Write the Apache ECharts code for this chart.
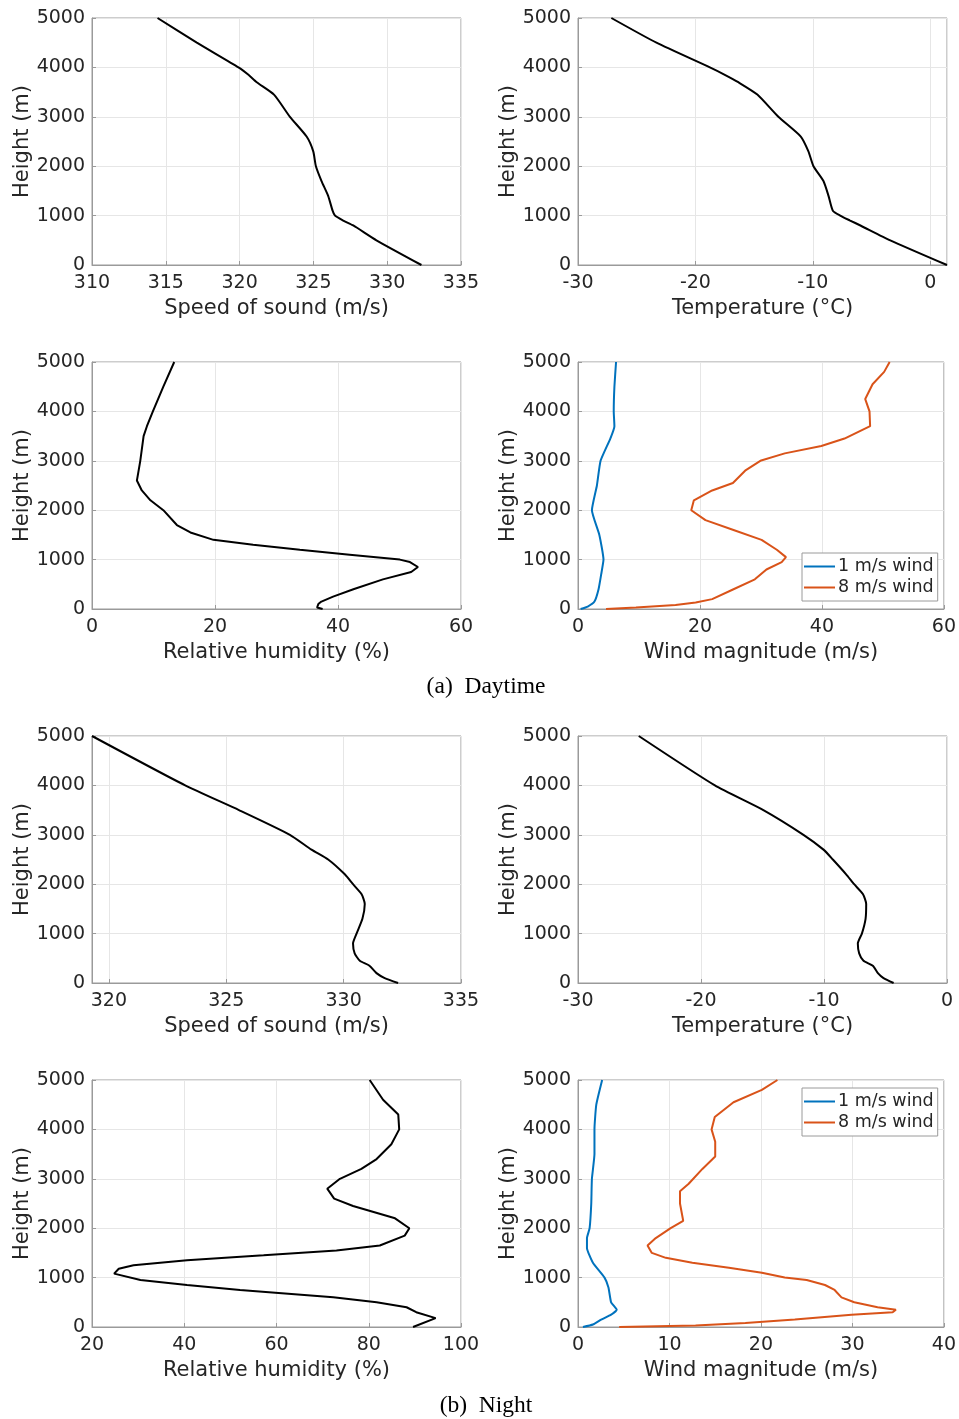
<!DOCTYPE html>
<html>
<head>
<meta charset="utf-8">
<script src="https://cdn.jsdelivr.net/npm/echarts@6.0.0/dist/echarts.min.js"></script>
<style>
  html, body { margin: 0; padding: 0; background: #fff; }
  #main { width: 959px; height: 1419px; }
</style>
</head>
<body>
<div id="main"></div>
<script>
    // ---- daytime profiles (height in m) ----
    var sosDayH = [5000, 4500, 4000, 3850, 3700, 3450, 3000, 2600, 2300, 2000, 1700, 1400, 1100, 1000, 900, 800, 500, 0];
    var sosDay = [314.44, 317.1, 319.92, 320.6, 321.16, 322.33, 323.41, 324.54, 324.99, 325.17, 325.55, 326.0, 326.3, 326.46, 327.02, 327.7, 329.27, 332.32];
    var tempDay = [-27.16, -23.32, -18.77, -17.5, -16.35, -14.73, -12.94, -11.03, -10.38, -9.95, -9.1, -8.67, -8.3, -7.68, -6.83, -5.95, -3.41, 1.42];

    var rhDayH = [5000, 4500, 4000, 3700, 3500, 3000, 2600, 2400, 2200, 2000, 1700, 1550, 1400, 1300, 1200, 1100, 1000, 950, 850, 750, 600, 400, 250, 150, 100, 30, 0];
    var rhDay = [13.37, 11.6, 9.9, 8.93, 8.39, 7.85, 7.3, 8.1, 9.5, 11.6, 13.8, 16.0, 19.75, 26.2, 33.8, 41.9, 50.05, 51.7, 53.0, 51.9, 47.3, 42.5, 39.2, 37.3, 36.8, 36.6, 37.5];

    var wind1DayH = [5000, 4500, 4000, 3700, 3450, 3000, 2500, 2000, 1500, 1000, 700, 400, 150, 50, 0];
    var wind1Day = [6.24, 5.97, 5.86, 5.97, 5.3, 3.7, 3.1, 2.28, 3.5, 4.18, 3.8, 3.37, 2.7, 1.6, 0.43];
    var wind8DayH = [5000, 4800, 4550, 4250, 4000, 3700, 3450, 3300, 3150, 3000, 2800, 2550, 2400, 2200, 2000, 1800, 1600, 1400, 1200, 1050, 950, 800, 600, 400, 200, 130, 80, 30, 0];
    var wind8Day = [51.1, 50.2, 48.3, 47.1, 47.8, 47.9, 43.7, 39.9, 33.9, 29.9, 27.4, 25.4, 22.0, 19.0, 18.57, 20.9, 25.5, 30.1, 32.6, 34.1, 33.4, 30.9, 29.0, 25.5, 22.0, 19.3, 16.0, 9.5, 4.6];

    // ---- night profiles ----
    var sosNightH = [5000, 4000, 3500, 3000, 2700, 2500, 2200, 2000, 1800, 1600, 1300, 1000, 800, 600, 450, 350, 200, 100, 0];
    var sosNight = [319.28, 323.25, 325.54, 327.71, 328.63, 329.34, 330.05, 330.4, 330.76, 330.9, 330.8, 330.55, 330.4, 330.47, 330.69, 331.1, 331.4, 331.75, 332.32];
    var tempNight = [-25.06, -18.87, -14.93, -11.67, -10.04, -9.28, -8.2, -7.55, -6.84, -6.57, -6.62, -6.92, -7.25, -7.14, -6.79, -6.03, -5.62, -5.16, -4.34];

    var rhNightH = [5000, 4600, 4300, 4000, 3700, 3400, 3200, 3000, 2800, 2600, 2450, 2200, 2000, 1850, 1650, 1550, 1450, 1350, 1250, 1180, 1080, 950, 850, 750, 600, 500, 400, 300, 180, 0];
    var rhNight = [80.2, 83.1, 86.4, 86.6, 84.9, 81.7, 78.4, 73.75, 71.0, 72.5, 76.6, 85.7, 88.8, 87.8, 82.4, 73.0, 57.2, 40.6, 29.0, 25.8, 24.8, 30.5, 40.6, 52.1, 72.3, 81.7, 88.2, 90.3, 94.5, 89.6];

    var wind1NightH = [5000, 4500, 4000, 3500, 3000, 2500, 2000, 1800, 1600, 1300, 1000, 800, 500, 350, 250, 150, 50, 0];
    var wind1Night = [2.64, 2.0, 1.8, 1.8, 1.52, 1.45, 1.27, 0.98, 0.98, 1.63, 2.9, 3.33, 3.62, 4.23, 3.62, 2.53, 1.63, 0.54];
    var wind8NightH = [5000, 4800, 4550, 4250, 4000, 3750, 3450, 3200, 2900, 2750, 2500, 2150, 2000, 1800, 1650, 1500, 1400, 1300, 1200, 1100, 1000, 950, 850, 750, 600, 500, 400, 350, 300, 250, 150, 80, 30, 0];
    var wind8Night = [21.8, 20.1, 17.0, 14.95, 14.6, 15.0, 15.0, 13.6, 12.1, 11.15, 11.15, 11.5, 10.13, 8.5, 7.6, 8.07, 9.6, 12.5, 16.5, 20.1, 22.6, 25.0, 27.0, 28.05, 28.8, 30.2, 32.75, 34.75, 34.4, 29.9, 23.7, 18.3, 12.85, 4.5];

    var windNames = ['1 m/s wind', '8 m/s wind'];
    var captions = ['(a)  Daytime', '(b)  Night'];

    var FONT = 'DejaVu Sans';
    var TXT = '#262626';
    var lefts = [92, 578];
    var tops = [18, 362, 736, 1080];

    function pairs(xs, hs) {
        return xs.map(function (v, i) { return [v, hs[i]]; });
    }

    // x axis settings for each of the 8 plots
    var panels = [
        {name: 'Speed of sound (m/s)', min: 310, max: 335, interval: 5},
        {name: 'Temperature (°C)', min: -30, max: 1.42, splitNumber: 3, hideMax: true},
        {name: 'Relative humidity (%)', min: 0, max: 60, interval: 20},
        {name: 'Wind magnitude (m/s)', min: 0, max: 60, interval: 20},
        {name: 'Speed of sound (m/s)', min: 319.28, max: 335, splitNumber: 3, hideMin: true},
        {name: 'Temperature (°C)', min: -30, max: 0, interval: 10},
        {name: 'Relative humidity (%)', min: 20, max: 100, interval: 20},
        {name: 'Wind magnitude (m/s)', min: 0, max: 40, interval: 10}
    ];

    var grids = [], xAxes = [], yAxes = [];
    panels.forEach(function (p, i) {
        grids.push({
            left: lefts[i % 2], top: tops[Math.floor(i / 2)], width: 369, height: 247,
            show: true, borderColor: '#9a9a9a', borderWidth: 1, backgroundColor: '#fff'
        });
        var xa = {
            type: 'value', gridIndex: i, min: p.min, max: p.max,
            name: p.name, nameLocation: 'middle', nameGap: 33,
            nameTextStyle: {fontFamily: FONT, fontSize: 21, color: TXT},
            axisLine: {show: true, onZero: false, lineStyle: {color: '#9a9a9a'}},
            axisTick: {show: true, inside: true, length: 4, lineStyle: {color: '#9a9a9a'}},
            axisLabel: {fontFamily: FONT, fontSize: 19, color: TXT, margin: 9,
                showMinLabel: !p.hideMin, showMaxLabel: !p.hideMax,
                formatter: function (v) { return String(Math.round(v * 100) / 100); }},
            splitLine: {show: true, lineStyle: {color: '#e6e6e6'}}
        };
        if (p.interval) xa.interval = p.interval;
        if (p.splitNumber) xa.splitNumber = p.splitNumber;
        xAxes.push(xa);
        yAxes.push({
            type: 'value', gridIndex: i, min: 0, max: 5000, interval: 1000,
            name: 'Height (m)', nameLocation: 'middle', nameGap: 54,
            nameTextStyle: {fontFamily: FONT, fontSize: 21, color: TXT},
            axisLine: {show: true, onZero: false, lineStyle: {color: '#9a9a9a'}},
            axisTick: {show: true, inside: true, length: 4, lineStyle: {color: '#9a9a9a'}},
            axisLabel: {fontFamily: FONT, fontSize: 19, color: TXT, margin: 7,
                formatter: function (v) { return String(v); }},
            splitLine: {show: true, lineStyle: {color: '#e6e6e6'}}
        });
    });

    function line(idx, data, color, name, smooth) {
        return {
            type: 'line', name: name, xAxisIndex: idx, yAxisIndex: idx,
            data: data, showSymbol: false, symbol: 'none',
            smooth: smooth || false,
            lineStyle: {color: color, width: 2}, itemStyle: {color: color},
            animation: false, z: 3
        };
    }

    var BLUE = '#0072BD', ORANGE = '#D95319', BLACK = '#000000';
    var series = [
        line(0, pairs(sosDay, sosDayH), BLACK, null, 0.2),
        line(1, pairs(tempDay, sosDayH), BLACK, null, 0.2),
        line(2, pairs(rhDay, rhDayH), BLACK),
        line(3, pairs(wind1Day, wind1DayH), BLUE, windNames[0], 0.15),
        line(3, pairs(wind8Day, wind8DayH), ORANGE, windNames[1]),
        line(4, pairs(sosNight, sosNightH), BLACK, null, 0.2),
        line(5, pairs(tempNight, sosNightH), BLACK, null, 0.2),
        line(6, pairs(rhNight, rhNightH), BLACK),
        line(7, pairs(wind1Night, wind1NightH), BLUE, windNames[0], 0.15),
        line(7, pairs(wind8Night, wind8NightH), ORANGE, windNames[1])
    ];

    var legendBase = {
        orient: 'vertical', left: 802, padding: [4, 4, 4, 2], itemGap: 2,
        itemWidth: 31, itemHeight: 2, icon: 'rect', selectedMode: false,
        borderColor: '#9a9a9a', borderWidth: 1, backgroundColor: '#fff',
        textStyle: {fontFamily: FONT, fontSize: 17.5, color: TXT, lineHeight: 19, padding: [0, 0, 0, -2]},
        data: windNames
    };

    var charts = echarts.init(document.getElementById('main'), null, {renderer: 'canvas'});
    charts.setOption({
        animation: false,
        backgroundColor: '#fff',
        grid: grids,
        xAxis: xAxes,
        yAxis: yAxes,
        legend: [
            Object.assign({}, legendBase, {top: 553}),
            Object.assign({}, legendBase, {top: 1088})
        ],
        graphic: [
            {type: 'text', x: 486, y: 687, style: {text: captions[0], font: '23.5px "Liberation Serif"', fill: '#000', align: 'center', verticalAlign: 'middle'}},
            {type: 'text', x: 486, y: 1406, style: {text: captions[1], font: '23.5px "Liberation Serif"', fill: '#000', align: 'center', verticalAlign: 'middle'}}
        ],
        series: series
    });
</script>
</body>
</html>
